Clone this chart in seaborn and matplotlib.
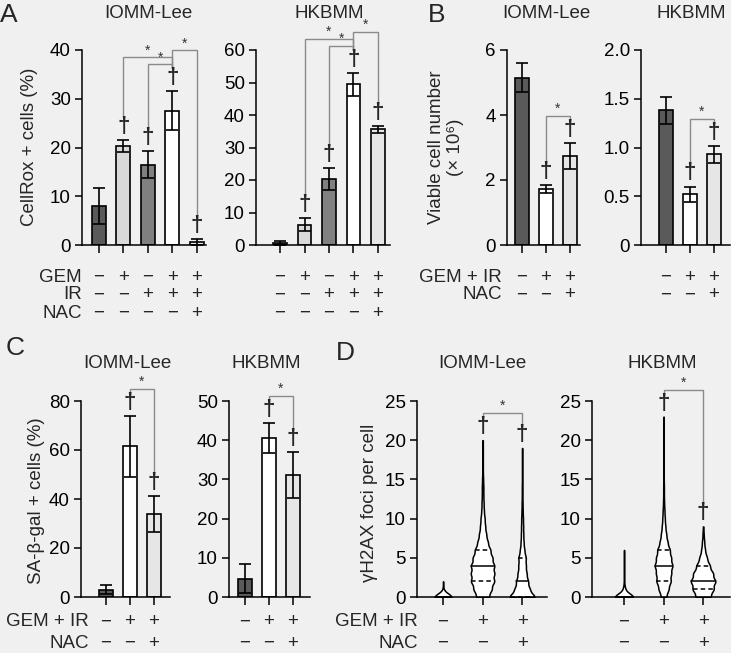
import matplotlib

matplotlib.use("Agg")
import matplotlib.pyplot as plt
import matplotlib.transforms as mtransforms
import numpy as np
import pandas as pd
import seaborn as sns

W, H = 731, 653
BG = "#f0f0f0"
EDGE = "black"
BRACKET = "#8a8a8a"
MINUS = "\u2212"
FS = 13.5

# ---------------- data ----------------
# Panel A: CellRox + cells (%)
A_GROUPS = ["ctrl", "GEM", "IR", "GEM+IR", "GEM+IR+NAC"]
A_GEM = [MINUS, "+", MINUS, "+", "+"]
A_IR = [MINUS, MINUS, "+", "+", "+"]
A_NAC = [MINUS, MINUS, MINUS, MINUS, "+"]
A_IOMM_MEAN = [8.0, 20.3, 16.5, 27.5, 0.7]
A_IOMM_SEM = [3.6, 1.2, 2.8, 4.0, 0.6]
A_HKB_MEAN = [0.6, 6.2, 20.3, 49.5, 35.6]
A_HKB_SEM = [0.5, 2.0, 3.3, 3.5, 1.0]
A_DAGGER = [False, True, True, True, True]
A_BRACKETS = [(2, 3), (1, 3), (3, 4)]

# Panels B / C / D share the three-group design
BCD_GROUPS = ["ctrl", "GEM+IR", "GEM+IR+NAC"]
BCD_GEMIR = [MINUS, "+", "+"]
BCD_NAC = [MINUS, MINUS, "+"]
BCD_DAGGER = [False, True, True]
BCD_BRACKETS = [(1, 2)]

# Panel B: viable cell number (x 10^6)
B_IOMM_MEAN = [5.15, 1.72, 2.75]
B_IOMM_SEM = [0.45, 0.13, 0.40]
B_HKB_MEAN = [1.38, 0.52, 0.93]
B_HKB_SEM = [0.14, 0.08, 0.09]

# Panel C: SA-beta-gal + cells (%)
C_IOMM_MEAN = [3.0, 61.5, 34.0]
C_IOMM_SEM = [1.8, 12.5, 7.3]
C_HKB_MEAN = [4.7, 40.6, 31.1]
C_HKB_SEM = [3.6, 3.9, 5.9]

# Panel D: gammaH2AX foci per cell, number of cells with 0, 1, 2, ... foci
D_IOMM_CTRL_N = [200, 5, 2]
D_IOMM_GEMIR_N = [25, 35, 45, 45, 45, 38, 30, 20, 14, 10, 8, 5, 4, 3, 3, 2, 1, 1, 1, 1, 1]
D_IOMM_NAC_N = [90, 50, 40, 30, 25, 25, 15, 10, 8, 7, 6, 4, 3, 2, 2, 1, 1, 1, 1, 1]
D_HKB_CTRL_N = [150, 15, 3, 2, 1, 1, 1]
D_HKB_GEMIR_N = [15, 28, 40, 42, 50, 42, 35, 22, 15, 10, 7, 5, 3, 2, 2,
                 1, 1, 1, 1, 1, 1, 1, 1, 1]
D_HKB_NAC_N = [40, 55, 65, 52, 35, 20, 10, 6, 3, 1]

A_COLORS = ["#5a5a5a", "#d9d9d9", "#808080", "#ffffff", "#e6e6e6"]
BCD_COLORS = ["#5a5a5a", "#ffffff", "#e6e6e6"]


def setup_style() -> None:
    sns.set_theme(style="ticks")
    plt.rcParams["font.family"] = ["Liberation Sans", "DejaVu Sans"]
    plt.rcParams["axes.unicode_minus"] = True
    plt.rcParams["figure.facecolor"] = BG
    plt.rcParams["axes.facecolor"] = BG
    plt.rcParams["savefig.facecolor"] = BG


def add_axes(fig, x0, x1, ytop, ybot):
    ax = fig.add_axes([x0 / W, 1 - ybot / H, (x1 - x0) / W, (ybot - ytop) / H])
    return ax


def style_axes(ax, n, xlim, yticks, ylabels):
    ax.set_xlim(*xlim)
    ax.set_ylim(yticks[0], yticks[-1])
    ax.set_xticks(range(n), labels=[""] * n)
    ax.set_yticks(yticks, labels=ylabels)
    ax.set_xlabel("")
    ax.set_ylabel("")
    sns.despine(ax=ax)
    for side in ["left", "bottom"]:
        ax.spines[side].set_linewidth(1.1)
        ax.spines[side].set_color("black")
    ax.tick_params(axis="both", direction="out", length=5, width=1.1,
                   color="black", labelsize=FS, labelcolor="black", pad=3)
    ax.tick_params(axis="x", length=6)


def px_unit(ax):
    lo, hi = ax.get_ylim()
    return (hi - lo) / ax.bbox.height


def add_marks(ax, tops, daggers, brackets):
    px = px_unit(ax)
    for i, (top, flag) in enumerate(zip(tops, daggers)):
        if flag:
            ax.annotate("\u2020", xy=(i, top), xytext=(0, 3), textcoords="offset pixels",
                        ha="center", va="bottom", fontsize=16, fontweight="bold",
                        annotation_clip=False, zorder=5)
    legs = [t + 23 * px for t in tops]
    for level, (i, j) in enumerate(brackets):
        top = max(legs[i], legs[j]) + (4 + 7 * level) * px
        ax.plot([i, i, j, j], [legs[i], top, top, legs[j]], color=BRACKET, lw=1.0,
                clip_on=False, solid_joinstyle="miter", zorder=4)
        ax.annotate("*", xy=((i + j) / 2, top), xytext=(0, 0), textcoords="offset pixels",
                    ha="center", va="bottom", fontsize=10, color="#333333",
                    annotation_clip=False)


def bar_panel(ax, groups, means, sems, colors, daggers, brackets, xlim, yticks, ylabels):
    frame = pd.DataFrame({"group": groups, "mean": means, "sem": sems})
    sns.barplot(data=frame, x="group", y="mean", hue="group", palette=colors,
                legend=False, errorbar=None, width=0.57, edgecolor=EDGE,
                linewidth=1.2, saturation=1, ax=ax)
    ax.errorbar(range(len(groups)), frame["mean"], yerr=frame["sem"], fmt="none",
                ecolor="black", elinewidth=1.2, capsize=4, capthick=1.2, zorder=3)
    style_axes(ax, len(groups), xlim, yticks, ylabels)
    add_marks(ax, list(frame["mean"] + frame["sem"]), daggers, brackets)


def violin_panel(ax, counts, widths, daggers, brackets, xlim, yticks):
    tops = []
    for i, n in enumerate(counts):
        values = np.repeat(np.arange(len(n)), n).astype(float)
        # kernel of about 0.45 foci for every group
        factor = 0.45 / values.std()
        sns.violinplot(x=np.full(len(values), i), y=values, native_scale=True, orient="x",
                       width=widths[i], density_norm="width", cut=0, bw_method=factor,
                       inner="quart", color="white", linecolor="black", linewidth=1.1,
                       saturation=1, ax=ax)
        quart = ax.lines[-3:]
        quart[1].set_linestyle("-")
        quart[0].set_dashes((3, 2))
        quart[2].set_dashes((3, 2))
        tops.append(values.max())
    style_axes(ax, len(counts), xlim, yticks, [str(t) for t in yticks])
    add_marks(ax, tops, daggers, brackets)


def sign_rows(fig, ax, rows, label_x, row_y):
    trans = mtransforms.blended_transform_factory(ax.transData, fig.transFigure)
    for (label, signs), y in zip(rows, row_y):
        fig.text(label_x / W, 1 - y / H, label, ha="right", va="center", fontsize=FS)
        for i, s in enumerate(signs):
            ax.text(i, 1 - y / H, s, transform=trans, ha="center", va="center",
                    fontsize=FS, clip_on=False)


def ftext(fig, x, y, s, **kw):
    fig.text(x / W, 1 - y / H, s, ha="center", va="center", **kw)


def main() -> None:
    setup_style()
    fig = plt.figure(figsize=(W / 100, H / 100), dpi=100)

    # Panel A
    ax = add_axes(fig, 82, 206, 50, 245)
    bar_panel(ax, A_GROUPS, A_IOMM_MEAN, A_IOMM_SEM, A_COLORS, A_DAGGER, A_BRACKETS,
              (-0.69, 4.37), [0, 10, 20, 30, 40], ["0", "10", "20", "30", "40"])
    sign_rows(fig, ax, [("GEM", A_GEM), ("IR", A_IR), ("NAC", A_NAC)], 82, [277, 295, 313])
    ax = add_axes(fig, 256, 390, 50, 245)
    bar_panel(ax, A_GROUPS, A_HKB_MEAN, A_HKB_SEM, A_COLORS, A_DAGGER, A_BRACKETS,
              (-0.98, 4.49), [0, 10, 20, 30, 40, 50, 60],
              ["0", "10", "20", "30", "40", "50", "60"])
    sign_rows(fig, ax, [("", A_GEM), ("", A_IR), ("", A_NAC)], 256, [277, 295, 313])

    # Panel B
    ax = add_axes(fig, 507, 580, 50, 245)
    bar_panel(ax, BCD_GROUPS, B_IOMM_MEAN, B_IOMM_SEM, BCD_COLORS, BCD_DAGGER, BCD_BRACKETS,
              (-0.62, 2.42), [0, 2, 4, 6], ["0", "2", "4", "6"])
    sign_rows(fig, ax, [("GEM + IR", BCD_GEMIR), ("NAC", BCD_NAC)], 502, [277, 295])
    ax = add_axes(fig, 641, 730, 50, 245)
    bar_panel(ax, BCD_GROUPS, B_HKB_MEAN, B_HKB_SEM, BCD_COLORS, BCD_DAGGER, BCD_BRACKETS,
              (-1.04, 2.67), [0, 0.5, 1.0, 1.5, 2.0], ["0", "0.5", "1.0", "1.5", "2.0"])
    sign_rows(fig, ax, [("", BCD_GEMIR), ("", BCD_NAC)], 641, [277, 295])

    # Panel C
    ax = add_axes(fig, 81, 170, 401, 597)
    bar_panel(ax, BCD_GROUPS, C_IOMM_MEAN, C_IOMM_SEM, BCD_COLORS, BCD_DAGGER, BCD_BRACKETS,
              (-1.04, 2.67), [0, 20, 40, 60, 80], ["0", "20", "40", "60", "80"])
    sign_rows(fig, ax, [("GEM + IR", BCD_GEMIR), ("NAC", BCD_NAC)], 89, [622, 643])
    ax = add_axes(fig, 229, 310, 401, 597)
    bar_panel(ax, BCD_GROUPS, C_HKB_MEAN, C_HKB_SEM, BCD_COLORS, BCD_DAGGER, BCD_BRACKETS,
              (-0.67, 2.71), [0, 10, 20, 30, 40, 50], ["0", "10", "20", "30", "40", "50"])
    sign_rows(fig, ax, [("", BCD_GEMIR), ("", BCD_NAC)], 229, [622, 643])

    # Panel D
    ax = add_axes(fig, 417, 547, 401, 597)
    violin_panel(ax, [D_IOMM_CTRL_N, D_IOMM_GEMIR_N, D_IOMM_NAC_N], [0.42, 0.6, 0.62],
                 BCD_DAGGER, BCD_BRACKETS, (-0.66, 2.63), [0, 5, 10, 15, 20, 25])
    sign_rows(fig, ax, [("GEM + IR", BCD_GEMIR), ("NAC", BCD_NAC)], 418, [622, 643])
    ax = add_axes(fig, 592, 730, 401, 597)
    violin_panel(ax, [D_HKB_CTRL_N, D_HKB_GEMIR_N, D_HKB_NAC_N], [0.45, 0.45, 0.62],
                 BCD_DAGGER, BCD_BRACKETS, (-0.81, 2.68), [0, 5, 10, 15, 20, 25])
    sign_rows(fig, ax, [("", BCD_GEMIR), ("", BCD_NAC)], 592, [622, 643])

    # titles, axis labels, panel letters
    for x, y, s in [(148, 14, "IOMM-Lee"), (329, 14, "HKBMM"), (546, 14, "IOMM-Lee"),
                    (691, 14, "HKBMM"), (127, 363, "IOMM-Lee"), (266, 363, "HKBMM"),
                    (482, 364, "IOMM-Lee"), (662, 364, "HKBMM")]:
        ftext(fig, x, y, s, fontsize=FS)
    ftext(fig, 30, 147, "CellRox + cells (%)", fontsize=FS, rotation=90)
    ftext(fig, 446, 147, "Viable cell number\n(\u00d7 10\u2076)", fontsize=FS,
          rotation=90, multialignment="center", linespacing=1.1)
    ftext(fig, 37, 501, "SA-\u03b2-gal + cells (%)", fontsize=FS, rotation=90)
    ftext(fig, 370, 503, "\u03b3H2AX foci per cell", fontsize=FS, rotation=90)
    for x, y, s in [(9, 15, "A"), (437, 15, "B"), (15, 348, "C"), (345, 353, "D")]:
        ftext(fig, x, y, s, fontsize=19)

    fig.savefig("out.png", dpi=100, facecolor=BG)
    plt.close(fig)


if __name__ == "__main__":
    main()
